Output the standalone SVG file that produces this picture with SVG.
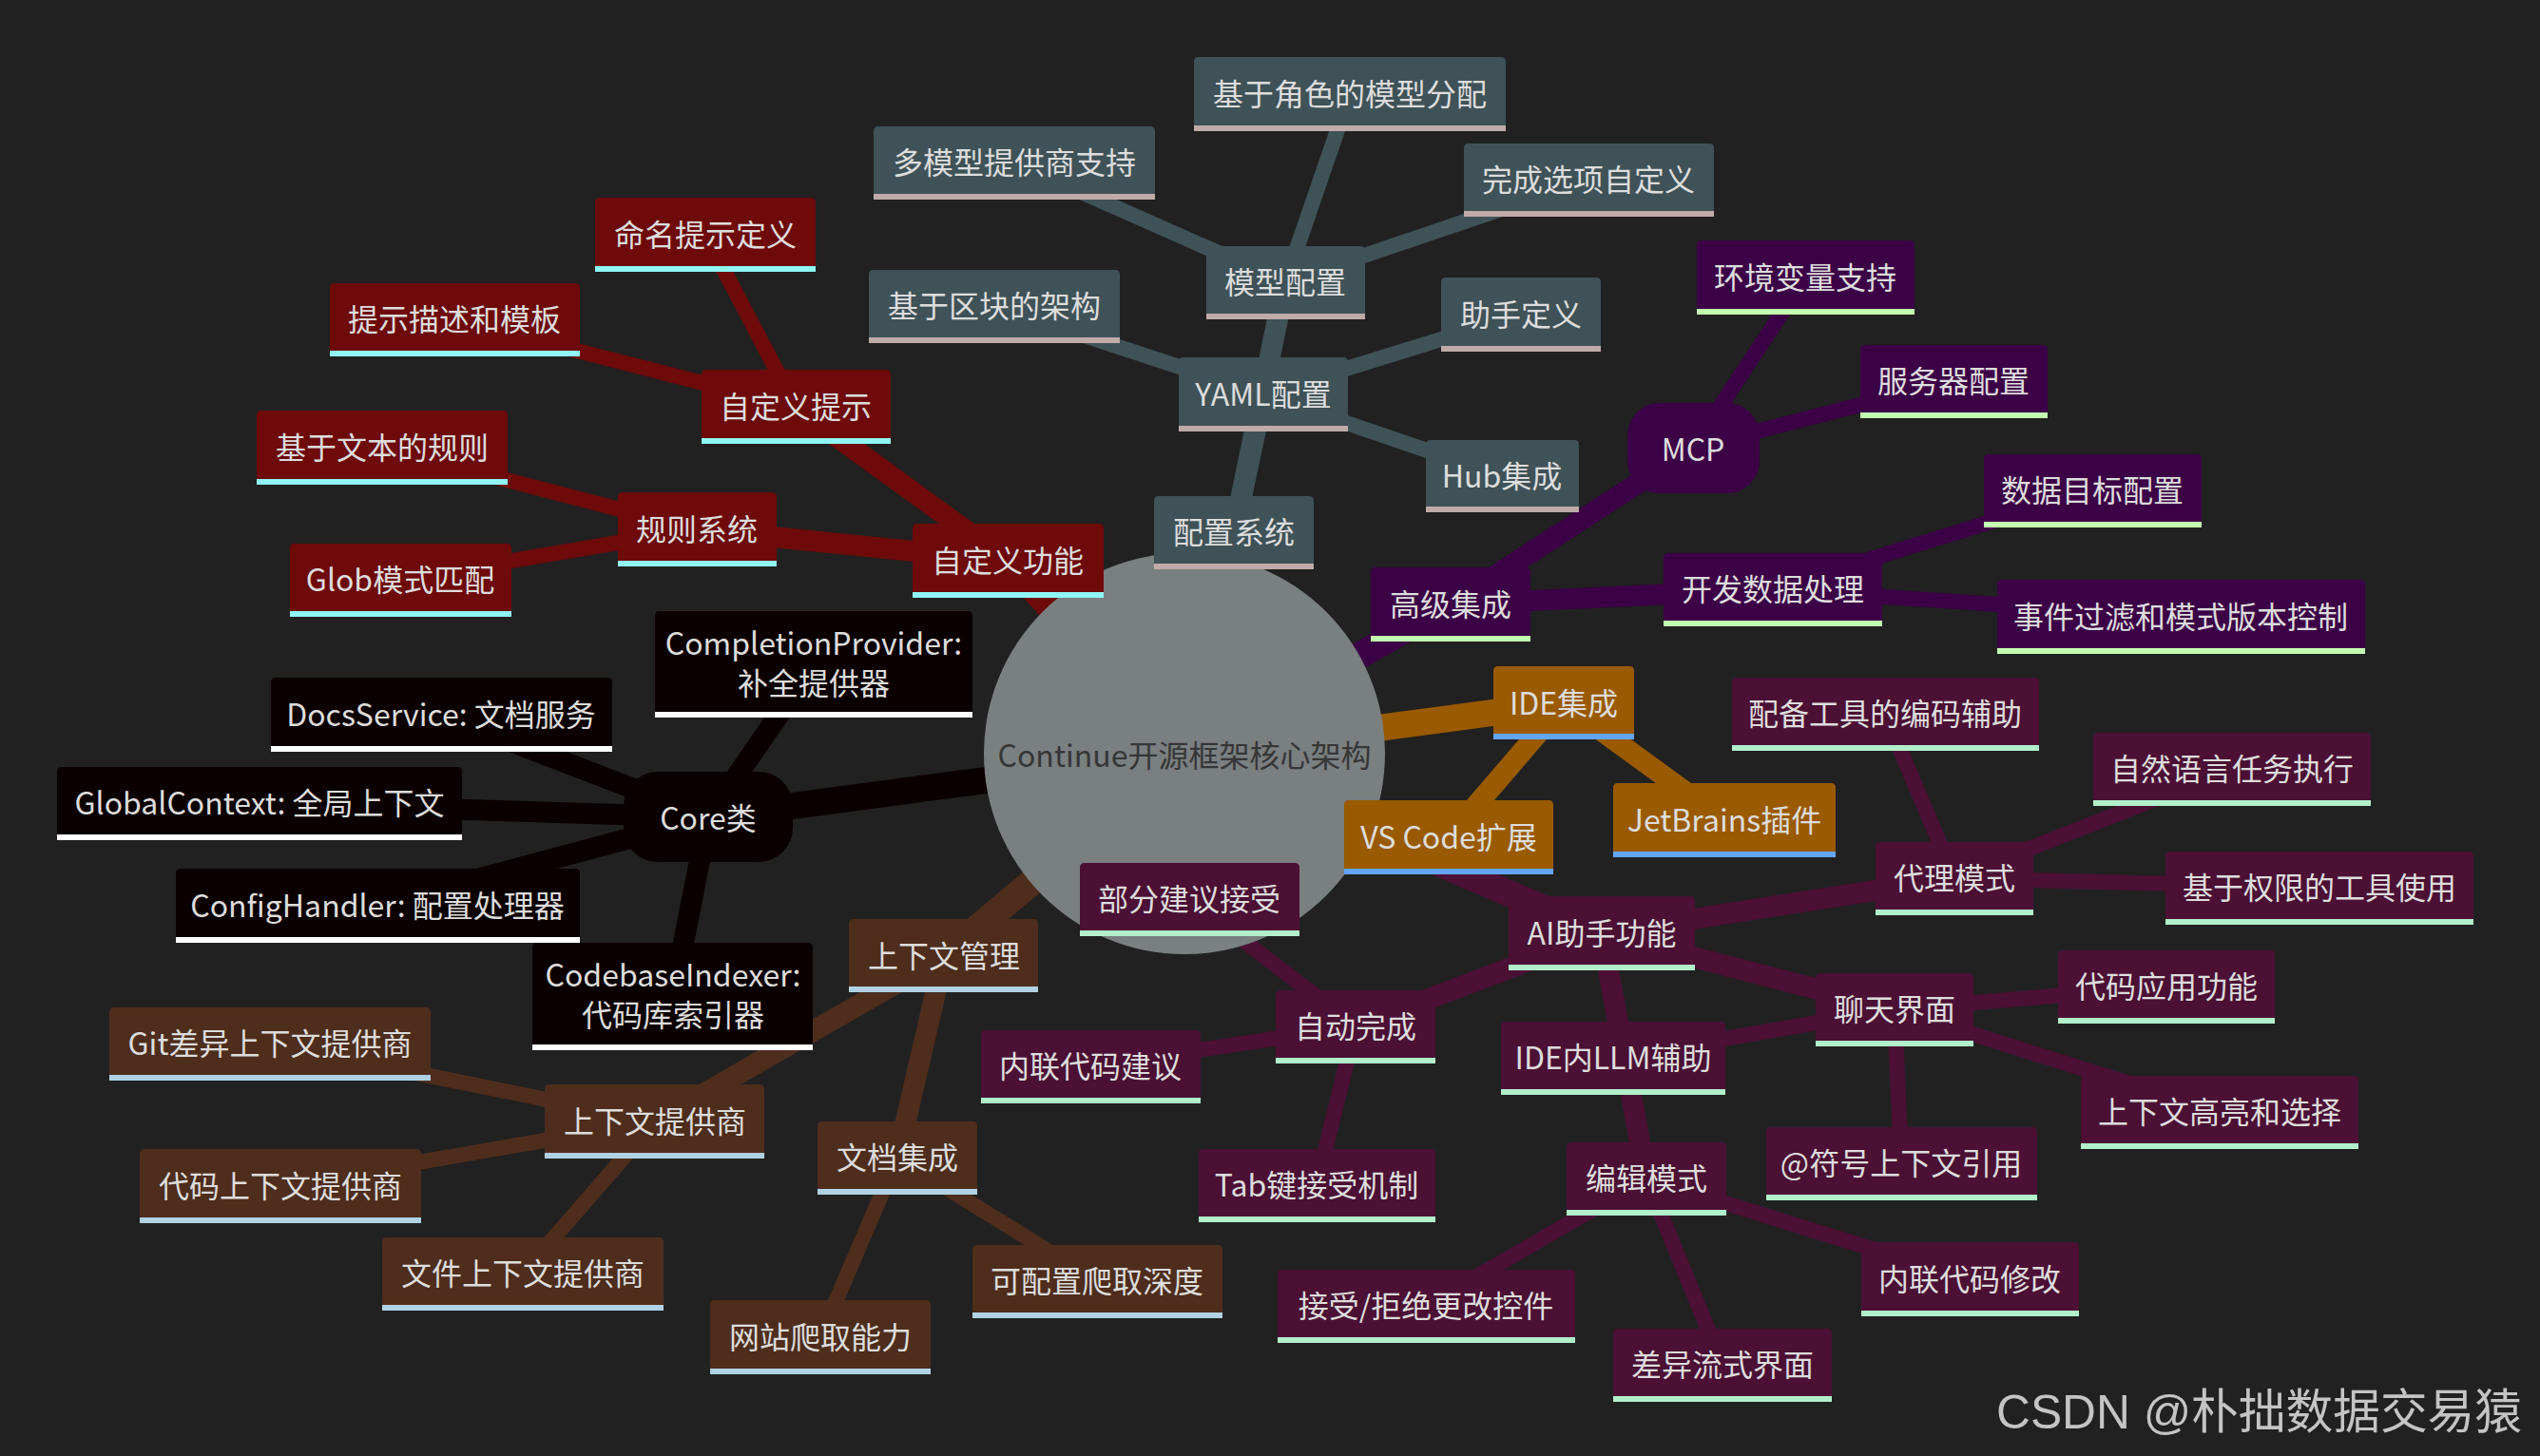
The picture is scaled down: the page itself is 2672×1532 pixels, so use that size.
<svg xmlns="http://www.w3.org/2000/svg" width="2672" height="1532" viewBox="0 0 2672 1532">
<style>
text{font-family:"Noto Sans CJK SC","Noto Sans",sans-serif;font-size:32px;fill:#dddddd;text-anchor:middle;dominant-baseline:central}
.e{fill:none;stroke-linecap:butt}
.d0{stroke-width:28}.d1{stroke-width:22}.d2{stroke-width:16}
.cr{stroke:#6e0a0a}.cc{stroke:#3f5258}.ca{stroke:#3c0046}.ci{stroke:#9a5a00}.cw{stroke:#4b1034}.cb{stroke:#4e2d1c}.ck{stroke:#0b0000}
.fr{fill:#6e0a0a}.fc{fill:#3f5258}.fa{fill:#3c0046}.fi{fill:#9a5a00}.fw{fill:#4b1034}.fb{fill:#4e2d1c}.fk{fill:#0b0000}
.br{fill:#8ff5f5}.bc{fill:#c0aba8}.ba{fill:#c3ffb0}.bi{fill:#64a5fc}.bw{fill:#b1f0cb}.bb{fill:#b0d2e4}.bk{fill:#ffffff}
.wm{font-family:"Liberation Sans","Noto Sans CJK SC",sans-serif;font-size:50px;fill:#c4c4c4;text-anchor:start;dominant-baseline:alphabetic}
.root{font-size:32px;fill:#363636}
</style>
<rect width="2672" height="1532" fill="#212121"/>
<g id="connectors">
<line class="e d0 cr" x1="1246" y1="793" x2="1060" y2="590"/>
<line class="e d0 cc" x1="1246" y1="793" x2="1298" y2="560"/>
<line class="e d0 ca" x1="1246" y1="793" x2="1526" y2="636"/>
<line class="e d0 ci" x1="1246" y1="793" x2="1645" y2="740"/>
<line class="e d0 cw" x1="1246" y1="793" x2="1685" y2="982"/>
<line class="e d0 cb" x1="1246" y1="793" x2="993" y2="1006"/>
<line class="e d0 ck" x1="1246" y1="793" x2="745" y2="860"/>
<line class="e d1 cr" x1="1060" y1="590" x2="837" y2="428"/>
<line class="e d1 cr" x1="1060" y1="590" x2="733" y2="557"/>
<line class="e d1 cc" x1="1298" y1="560" x2="1329" y2="415"/>
<line class="e d1 cc" x1="1298" y1="560" x2="1352" y2="297"/>
<line class="e d1 ca" x1="1526" y1="636" x2="1781" y2="471"/>
<line class="e d1 ca" x1="1526" y1="636" x2="1865" y2="620"/>
<line class="e d1 ci" x1="1645" y1="740" x2="1524" y2="881"/>
<line class="e d1 ci" x1="1645" y1="740" x2="1814" y2="863"/>
<line class="e d1 cw" x1="1685" y1="982" x2="2056" y2="924"/>
<line class="e d1 cw" x1="1685" y1="982" x2="1993" y2="1062"/>
<line class="e d1 cw" x1="1685" y1="982" x2="1732" y2="1240"/>
<line class="e d1 cw" x1="1685" y1="982" x2="1426" y2="1080"/>
<line class="e d1 cb" x1="993" y1="1006" x2="689" y2="1180"/>
<line class="e d1 cb" x1="993" y1="1006" x2="944" y2="1218"/>
<line class="e d1 ck" x1="745" y1="860" x2="856" y2="699"/>
<line class="e d1 ck" x1="745" y1="860" x2="464" y2="752"/>
<line class="e d1 ck" x1="745" y1="860" x2="273" y2="845"/>
<line class="e d1 ck" x1="745" y1="860" x2="397" y2="953"/>
<line class="e d1 ck" x1="745" y1="860" x2="708" y2="1048"/>
<line class="e d2 cr" x1="837" y1="428" x2="742" y2="247"/>
<line class="e d2 cr" x1="837" y1="428" x2="478" y2="336"/>
<line class="e d2 cr" x1="733" y1="557" x2="402" y2="471"/>
<line class="e d2 cr" x1="733" y1="557" x2="421" y2="610"/>
<line class="e d2 cc" x1="1329" y1="415" x2="1046" y2="322"/>
<line class="e d2 cc" x1="1329" y1="415" x2="1600" y2="331"/>
<line class="e d2 cc" x1="1329" y1="415" x2="1580" y2="501"/>
<line class="e d2 cc" x1="1352" y1="297" x2="1420" y2="99"/>
<line class="e d2 cc" x1="1352" y1="297" x2="1067" y2="171"/>
<line class="e d2 cc" x1="1352" y1="297" x2="1671" y2="189"/>
<line class="e d2 ca" x1="1781" y1="471" x2="1899" y2="292"/>
<line class="e d2 ca" x1="1781" y1="471" x2="2055" y2="401"/>
<line class="e d2 ca" x1="1865" y1="620" x2="2201" y2="516"/>
<line class="e d2 ca" x1="1865" y1="620" x2="2294" y2="649"/>
<line class="e d2 cw" x1="2056" y1="924" x2="1983" y2="751"/>
<line class="e d2 cw" x1="2056" y1="924" x2="2348" y2="809"/>
<line class="e d2 cw" x1="2056" y1="924" x2="2440" y2="934"/>
<line class="e d2 cw" x1="1993" y1="1062" x2="2279" y2="1038"/>
<line class="e d2 cw" x1="1993" y1="1062" x2="2335" y2="1170"/>
<line class="e d2 cw" x1="1993" y1="1062" x2="2000" y2="1224"/>
<line class="e d2 cw" x1="1993" y1="1062" x2="1697" y2="1113"/>
<line class="e d2 cw" x1="1732" y1="1240" x2="2072" y2="1346"/>
<line class="e d2 cw" x1="1732" y1="1240" x2="1812" y2="1436"/>
<line class="e d2 cw" x1="1732" y1="1240" x2="1500" y2="1374"/>
<line class="e d2 cw" x1="1426" y1="1080" x2="1147" y2="1122"/>
<line class="e d2 cw" x1="1426" y1="1080" x2="1385" y2="1247"/>
<line class="e d2 cw" x1="1426" y1="1080" x2="1251" y2="946"/>
<line class="e d2 cb" x1="689" y1="1180" x2="284" y2="1098"/>
<line class="e d2 cb" x1="689" y1="1180" x2="295" y2="1248"/>
<line class="e d2 cb" x1="689" y1="1180" x2="550" y2="1340"/>
<line class="e d2 cb" x1="944" y1="1218" x2="863" y2="1407"/>
<line class="e d2 cb" x1="944" y1="1218" x2="1154" y2="1348"/>
</g>
<g id="root">
<circle cx="1246" cy="793" r="211" fill="#7a7f80"/>
<text class="root" x="1246" y="793">Continue开源框架核心架构</text>
</g>
<g id="n-zdygn"><path class="fr" d="M960,629V556Q960,551 965,551H1156Q1161,551 1161,556V629Z"/><rect class="br" x="960" y="623" width="201" height="6"/><text x="1060" y="588">自定义功能</text></g>
<g id="n-zdyts"><path class="fr" d="M738,467V394Q738,389 743,389H932Q937,389 937,394V467Z"/><rect class="br" x="738" y="461" width="199" height="6"/><text x="837" y="426">自定义提示</text></g>
<g id="n-mmtsdy"><path class="fr" d="M626,286V213Q626,208 631,208H853Q858,208 858,213V286Z"/><rect class="br" x="626" y="280" width="232" height="6"/><text x="742" y="245">命名提示定义</text></g>
<g id="n-tsms"><path class="fr" d="M347,375V303Q347,298 352,298H605Q610,298 610,303V375Z"/><rect class="br" x="347" y="369" width="263" height="6"/><text x="478" y="334">提示描述和模板</text></g>
<g id="n-gzxt"><path class="fr" d="M650,596V523Q650,518 655,518H812Q817,518 817,523V596Z"/><rect class="br" x="650" y="590" width="167" height="6"/><text x="733" y="555">规则系统</text></g>
<g id="n-jywb"><path class="fr" d="M270,510V437Q270,432 275,432H529Q534,432 534,437V510Z"/><rect class="br" x="270" y="504" width="264" height="6"/><text x="402" y="469">基于文本的规则</text></g>
<g id="n-glob"><path class="fr" d="M305,649V577Q305,572 310,572H533Q538,572 538,577V649Z"/><rect class="br" x="305" y="643" width="233" height="6"/><text x="421" y="608">Glob模式匹配</text></g>
<g id="n-pzxt"><path class="fc" d="M1214,599V527Q1214,522 1219,522H1377Q1382,522 1382,527V599Z"/><rect class="bc" x="1214" y="593" width="168" height="6"/><text x="1298" y="558">配置系统</text></g>
<g id="n-yaml"><path class="fc" d="M1240,454V381Q1240,376 1245,376H1413Q1418,376 1418,381V454Z"/><rect class="bc" x="1240" y="448" width="178" height="6"/><text x="1329" y="413">YAML配置</text></g>
<g id="n-mxpz"><path class="fc" d="M1269,336V264Q1269,259 1274,259H1431Q1436,259 1436,264V336Z"/><rect class="bc" x="1269" y="330" width="167" height="6"/><text x="1352" y="295">模型配置</text></g>
<g id="n-jyjs"><path class="fc" d="M1256,138V65Q1256,60 1261,60H1579Q1584,60 1584,65V138Z"/><rect class="bc" x="1256" y="132" width="328" height="6"/><text x="1420" y="97">基于角色的模型分配</text></g>
<g id="n-dmx"><path class="fc" d="M919,210V138Q919,133 924,133H1210Q1215,133 1215,138V210Z"/><rect class="bc" x="919" y="204" width="296" height="6"/><text x="1067" y="169">多模型提供商支持</text></g>
<g id="n-wcxx"><path class="fc" d="M1540,228V156Q1540,151 1545,151H1798Q1803,151 1803,156V228Z"/><rect class="bc" x="1540" y="222" width="263" height="6"/><text x="1671" y="187">完成选项自定义</text></g>
<g id="n-jyqk"><path class="fc" d="M914,361V289Q914,284 919,284H1173Q1178,284 1178,289V361Z"/><rect class="bc" x="914" y="355" width="264" height="6"/><text x="1046" y="320">基于区块的架构</text></g>
<g id="n-zsdy"><path class="fc" d="M1516,370V297Q1516,292 1521,292H1679Q1684,292 1684,297V370Z"/><rect class="bc" x="1516" y="364" width="168" height="6"/><text x="1600" y="329">助手定义</text></g>
<g id="n-hub"><path class="fc" d="M1500,539V468Q1500,463 1505,463H1656Q1661,463 1661,468V539Z"/><rect class="bc" x="1500" y="533" width="161" height="6"/><text x="1580" y="499">Hub集成</text></g>
<g id="n-gjjc"><path class="fa" d="M1442,675V602Q1442,597 1447,597H1605Q1610,597 1610,602V675Z"/><rect class="ba" x="1442" y="669" width="168" height="6"/><text x="1526" y="634">高级集成</text></g>
<g id="n-mcp"><rect class="fa" x="1712" y="424" width="139" height="95" rx="34" ry="34"/><text x="1781" y="471">MCP</text></g>
<g id="n-hjbl"><path class="fa" d="M1785,331V258Q1785,253 1790,253H2009Q2014,253 2014,258V331Z"/><rect class="ba" x="1785" y="325" width="229" height="6"/><text x="1899" y="290">环境变量支持</text></g>
<g id="n-fwq"><path class="fa" d="M1957,440V368Q1957,363 1962,363H2149Q2154,363 2154,368V440Z"/><rect class="ba" x="1957" y="434" width="197" height="6"/><text x="2055" y="399">服务器配置</text></g>
<g id="n-kfsj"><path class="fa" d="M1750,659V587Q1750,582 1755,582H1975Q1980,582 1980,587V659Z"/><rect class="ba" x="1750" y="653" width="230" height="6"/><text x="1865" y="618">开发数据处理</text></g>
<g id="n-sjmb"><path class="fa" d="M2087,555V483Q2087,478 2092,478H2311Q2316,478 2316,483V555Z"/><rect class="ba" x="2087" y="549" width="229" height="6"/><text x="2201" y="514">数据目标配置</text></g>
<g id="n-sjgl"><path class="fa" d="M2101,688V615Q2101,610 2106,610H2483Q2488,610 2488,615V688Z"/><rect class="ba" x="2101" y="682" width="387" height="6"/><text x="2294" y="647">事件过滤和模式版本控制</text></g>
<g id="n-idejc"><path class="fi" d="M1571,778V706Q1571,701 1576,701H1714Q1719,701 1719,706V778Z"/><rect class="bi" x="1571" y="772" width="148" height="6"/><text x="1645" y="738">IDE集成</text></g>
<g id="n-vscode"><path class="fi" d="M1414,920V847Q1414,842 1419,842H1629Q1634,842 1634,847V920Z"/><rect class="bi" x="1414" y="914" width="220" height="6"/><text x="1524" y="879">VS Code扩展</text></g>
<g id="n-jetbrains"><path class="fi" d="M1697,902V829Q1697,824 1702,824H1926Q1931,824 1931,829V902Z"/><rect class="bi" x="1697" y="896" width="234" height="6"/><text x="1814" y="861">JetBrains插件</text></g>
<g id="n-ai"><path class="fw" d="M1587,1021V948Q1587,943 1592,943H1778Q1783,943 1783,948V1021Z"/><rect class="bw" x="1587" y="1015" width="196" height="6"/><text x="1685" y="980">AI助手功能</text></g>
<g id="n-dlms"><path class="fw" d="M1973,963V891Q1973,886 1978,886H2134Q2139,886 2139,891V963Z"/><rect class="bw" x="1973" y="957" width="166" height="6"/><text x="2056" y="922">代理模式</text></g>
<g id="n-pbgj"><path class="fw" d="M1822,790V718Q1822,713 1827,713H2140Q2145,713 2145,718V790Z"/><rect class="bw" x="1822" y="784" width="323" height="6"/><text x="1983" y="749">配备工具的编码辅助</text></g>
<g id="n-zryy"><path class="fw" d="M2202,848V776Q2202,771 2207,771H2489Q2494,771 2494,776V848Z"/><rect class="bw" x="2202" y="842" width="292" height="6"/><text x="2348" y="807">自然语言任务执行</text></g>
<g id="n-jyqx"><path class="fw" d="M2278,973V901Q2278,896 2283,896H2597Q2602,896 2602,901V973Z"/><rect class="bw" x="2278" y="967" width="324" height="6"/><text x="2440" y="932">基于权限的工具使用</text></g>
<g id="n-ltjm"><path class="fw" d="M1910,1101V1029Q1910,1024 1915,1024H2071Q2076,1024 2076,1029V1101Z"/><rect class="bw" x="1910" y="1095" width="166" height="6"/><text x="1993" y="1060">聊天界面</text></g>
<g id="n-dmyy"><path class="fw" d="M2165,1077V1005Q2165,1000 2170,1000H2388Q2393,1000 2393,1005V1077Z"/><rect class="bw" x="2165" y="1071" width="228" height="6"/><text x="2279" y="1036">代码应用功能</text></g>
<g id="n-sxwgl"><path class="fw" d="M2189,1209V1137Q2189,1132 2194,1132H2476Q2481,1132 2481,1137V1209Z"/><rect class="bw" x="2189" y="1203" width="292" height="6"/><text x="2335" y="1168">上下文高亮和选择</text></g>
<g id="n-at"><path class="fw" d="M1858,1263V1191Q1858,1186 1863,1186H2138Q2143,1186 2143,1191V1263Z"/><rect class="bw" x="1858" y="1257" width="285" height="6"/><text x="2000" y="1222">@符号上下文引用</text></g>
<g id="n-idellm"><path class="fw" d="M1579,1152V1080Q1579,1075 1584,1075H1810Q1815,1075 1815,1080V1152Z"/><rect class="bw" x="1579" y="1146" width="236" height="6"/><text x="1697" y="1111">IDE内LLM辅助</text></g>
<g id="n-bjms"><path class="fw" d="M1648,1279V1207Q1648,1202 1653,1202H1811Q1816,1202 1816,1207V1279Z"/><rect class="bw" x="1648" y="1273" width="168" height="6"/><text x="1732" y="1238">编辑模式</text></g>
<g id="n-nldmxg"><path class="fw" d="M1958,1385V1312Q1958,1307 1963,1307H2182Q2187,1307 2187,1312V1385Z"/><rect class="bw" x="1958" y="1379" width="229" height="6"/><text x="2072" y="1344">内联代码修改</text></g>
<g id="n-cyls"><path class="fw" d="M1697,1475V1403Q1697,1398 1702,1398H1922Q1927,1398 1927,1403V1475Z"/><rect class="bw" x="1697" y="1469" width="230" height="6"/><text x="1812" y="1434">差异流式界面</text></g>
<g id="n-jsjj"><path class="fw" d="M1344,1413V1341Q1344,1336 1349,1336H1652Q1657,1336 1657,1341V1413Z"/><rect class="bw" x="1344" y="1407" width="313" height="6"/><text x="1500" y="1372">接受/拒绝更改控件</text></g>
<g id="n-zdwc"><path class="fw" d="M1342,1119V1047Q1342,1042 1347,1042H1505Q1510,1042 1510,1047V1119Z"/><rect class="bw" x="1342" y="1113" width="168" height="6"/><text x="1426" y="1078">自动完成</text></g>
<g id="n-nldmjy"><path class="fw" d="M1032,1161V1089Q1032,1084 1037,1084H1258Q1263,1084 1263,1089V1161Z"/><rect class="bw" x="1032" y="1155" width="231" height="6"/><text x="1147" y="1120">内联代码建议</text></g>
<g id="n-tab"><path class="fw" d="M1261,1286V1214Q1261,1209 1266,1209H1505Q1510,1209 1510,1214V1286Z"/><rect class="bw" x="1261" y="1280" width="249" height="6"/><text x="1385" y="1245">Tab键接受机制</text></g>
<g id="n-bfjy"><path class="fw" d="M1136,985V913Q1136,908 1141,908H1362Q1367,908 1367,913V985Z"/><rect class="bw" x="1136" y="979" width="231" height="6"/><text x="1251" y="944">部分建议接受</text></g>
<g id="n-sxwgl2"><path class="fb" d="M893,1044V972Q893,967 898,967H1087Q1092,967 1092,972V1044Z"/><rect class="bb" x="893" y="1038" width="199" height="6"/><text x="993" y="1004">上下文管理</text></g>
<g id="n-sxwtgs"><path class="fb" d="M573,1219V1146Q573,1141 578,1141H799Q804,1141 804,1146V1219Z"/><rect class="bb" x="573" y="1213" width="231" height="6"/><text x="689" y="1178">上下文提供商</text></g>
<g id="n-git"><path class="fb" d="M115,1137V1065Q115,1060 120,1060H448Q453,1060 453,1065V1137Z"/><rect class="bb" x="115" y="1131" width="338" height="6"/><text x="284" y="1096">Git差异上下文提供商</text></g>
<g id="n-dmsxw"><path class="fb" d="M147,1287V1214Q147,1209 152,1209H438Q443,1209 443,1214V1287Z"/><rect class="bb" x="147" y="1281" width="296" height="6"/><text x="295" y="1246">代码上下文提供商</text></g>
<g id="n-wjsxw"><path class="fb" d="M402,1379V1307Q402,1302 407,1302H693Q698,1302 698,1307V1379Z"/><rect class="bb" x="402" y="1373" width="296" height="6"/><text x="550" y="1338">文件上下文提供商</text></g>
<g id="n-wdjc"><path class="fb" d="M860,1257V1185Q860,1180 865,1180H1023Q1028,1180 1028,1185V1257Z"/><rect class="bb" x="860" y="1251" width="168" height="6"/><text x="944" y="1216">文档集成</text></g>
<g id="n-wzpq"><path class="fb" d="M747,1446V1373Q747,1368 752,1368H974Q979,1368 979,1373V1446Z"/><rect class="bb" x="747" y="1440" width="232" height="6"/><text x="863" y="1405">网站爬取能力</text></g>
<g id="n-kpz"><path class="fb" d="M1023,1387V1315Q1023,1310 1028,1310H1281Q1286,1310 1286,1315V1387Z"/><rect class="bb" x="1023" y="1381" width="263" height="6"/><text x="1154" y="1346">可配置爬取深度</text></g>
<g id="n-core"><rect class="fk" x="656" y="812" width="178" height="95" rx="36" ry="36"/><text x="745" y="859">Core类</text></g>
<g id="n-completion"><path class="fk" d="M689,755V648Q689,643 694,643H1018Q1023,643 1023,648V755Z"/><rect class="bk" x="689" y="749" width="334" height="6"/><text x="856" y="675">CompletionProvider:<tspan x="856" dy="42">补全提供器</tspan></text></g>
<g id="n-docs"><path class="fk" d="M285,791V718Q285,713 290,713H639Q644,713 644,718V791Z"/><rect class="bk" x="285" y="785" width="359" height="6"/><text x="464" y="750">DocsService: 文档服务</text></g>
<g id="n-global"><path class="fk" d="M60,884V812Q60,807 65,807H481Q486,807 486,812V884Z"/><rect class="bk" x="60" y="878" width="426" height="6"/><text x="273" y="843">GlobalContext: 全局上下文</text></g>
<g id="n-confighandler"><path class="fk" d="M185,992V919Q185,914 190,914H605Q610,914 610,919V992Z"/><rect class="bk" x="185" y="986" width="425" height="6"/><text x="397" y="951">ConfigHandler: 配置处理器</text></g>
<g id="n-codebase"><path class="fk" d="M560,1105V997Q560,992 565,992H850Q855,992 855,997V1105Z"/><rect class="bk" x="560" y="1099" width="295" height="6"/><text x="708" y="1024">CodebaseIndexer:<tspan x="708" dy="42">代码库索引器</tspan></text></g>
<text class="wm" x="2100" y="1503" textLength="553" lengthAdjust="spacingAndGlyphs">CSDN @朴拙数据交易猿</text>
</svg>
